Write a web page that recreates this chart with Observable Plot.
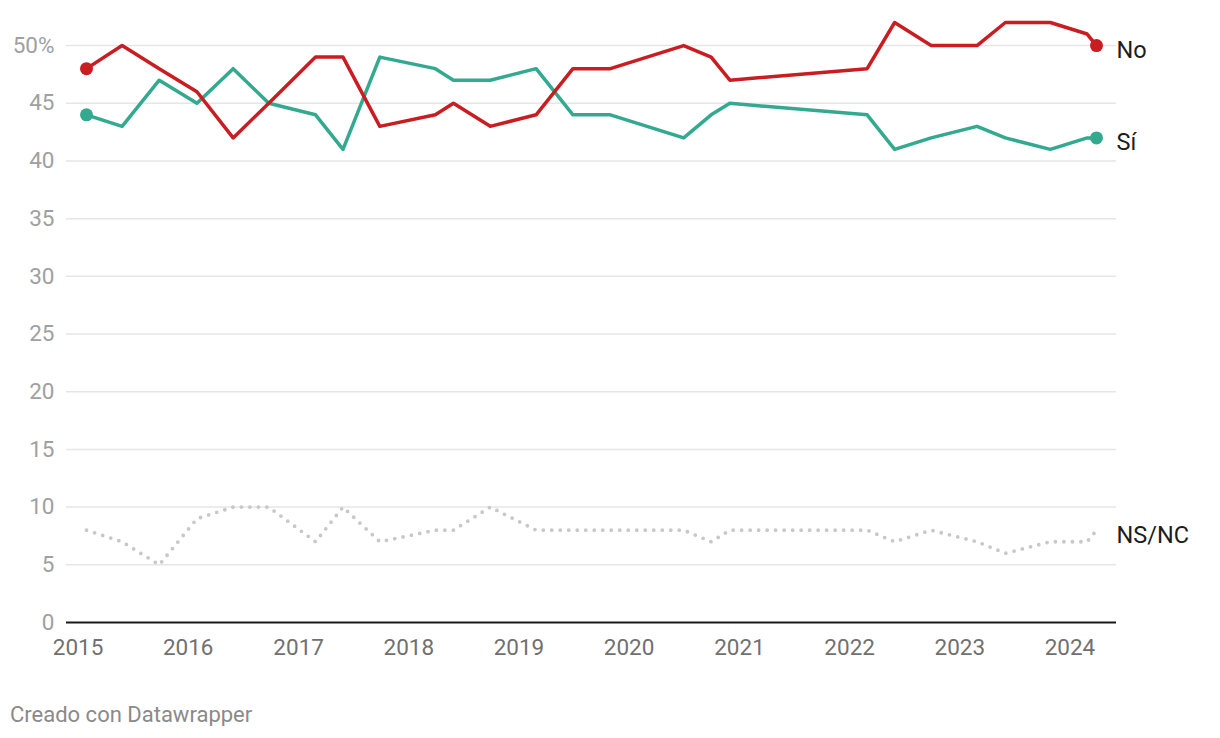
<!DOCTYPE html>
<html>
<head>
<meta charset="utf-8">
<script src="https://cdn.jsdelivr.net/npm/d3@7"></script>
<script src="https://cdn.jsdelivr.net/npm/@observablehq/plot@0.6"></script>
<style>
  body { margin: 0; background: #fff; font-family: Roboto, sans-serif; }
  #chart svg { display: block; }
  .caption { margin-top: 24px; padding-left: 10px; font-size: 22px; line-height: 22px; color: #8a8a8a; font-family: Roboto, sans-serif; }
</style>
</head>
<body>
<div id="chart"></div>
<div class="caption">Creado con Datawrapper</div>
<script>
const dates = ["2015-01-29","2015-05-27","2015-09-27","2016-01-30","2016-05-29","2016-09-24","2017-02-26","2017-05-28","2017-09-27","2018-03-30","2018-05-29","2018-09-28","2019-02-27","2019-06-29","2019-10-31","2020-06-30","2020-09-29","2020-11-30","2022-02-28","2022-05-30","2022-09-28","2023-02-27","2023-06-01","2023-10-28","2024-02-27","2024-03-29"];
const no   = [48,50,48,46,42,45,49,49,43,44,45,43,44,48,48,50,49,47,48,52,50,50,52,52,51,50];
const si   = [44,43,47,45,48,45,44,41,49,48,47,47,48,44,44,42,44,45,44,41,42,43,42,41,42,42];
const nsnc = [8,7,5,9,10,10,7,10,7,8,8,10,8,8,8,8,7,8,8,7,8,7,6,7,7,8];
const seriesNames = ["No", "Sí", "NS/NC"];
const seriesColors = ["#c91d22", "#33a98f", "#c8c8c8"];
const yTicks = [0,5,10,15,20,25,30,35,40,45,50];
const yTickLabels = ["0","5","10","15","20","25","30","35","40","45","50%"];
const xTickYears = ["2015","2016","2017","2018","2019","2020","2021","2022","2023","2024"];

const parse = d3.utcParse("%Y-%m-%d");
const values = [no, si, nsnc];
const rows = seriesNames.map((name, s) => dates.map((d, i) => ({date: parse(d), serie: name, value: values[s][i]})));
const yLabel = new Map(yTicks.map((t, i) => [t, yTickLabels[i]]));
const xTicks = xTickYears.map(y => parse(y + "-01-01"));

const endDots = [rows[0][0], rows[0][rows[0].length - 1], rows[1][0], rows[1][rows[1].length - 1]];
const lastPoints = rows.map(r => r[r.length - 1]);
const colorOf = new Map(seriesNames.map((n, i) => [n, seriesColors[i]]));

const chart = Plot.plot({
  width: 1220,
  height: 680,
  marginLeft: 66,
  marginRight: 104,
  marginTop: 22,
  marginBottom: 58,
  style: {fontFamily: "Roboto, sans-serif", fontSize: "22px", background: "#fff", overflow: "visible"},
  x: {type: "utc", inset: 20},
  y: {domain: [0, 52]},
  marks: [
    Plot.ruleY(yTicks.filter(d => d > 0), {stroke: "#e6e6e6", strokeWidth: 1.5}),
    Plot.axisY({ticks: yTicks, tickSize: 0, tickPadding: 12, tickFormat: d => yLabel.get(d), fill: "#a0a0a0", fontSize: 22.5, label: null}),
    Plot.axisX({ticks: xTicks, tickSize: 0, tickPadding: 17, tickFormat: d3.utcFormat("%Y"), fill: "#707070", fontSize: 22.5, label: null}),
    Plot.ruleY([0], {stroke: "#1a1a1a", strokeWidth: 2}),
    Plot.line(rows[2], {x: "date", y: "value", stroke: seriesColors[2], strokeWidth: 3.8, strokeDasharray: "0 8.5", strokeLinecap: "round"}),
    Plot.line(rows[1], {x: "date", y: "value", stroke: seriesColors[1], strokeWidth: 3.5, strokeLinejoin: "round"}),
    Plot.line(rows[0], {x: "date", y: "value", stroke: seriesColors[0], strokeWidth: 3.5, strokeLinejoin: "round"}),
    Plot.dot(endDots, {x: "date", y: "value", r: 6.5, fill: d => colorOf.get(d.serie), stroke: "none"}),
    Plot.text(lastPoints, {x: "date", y: "value", text: "serie", dx: 20, dy: 5, textAnchor: "start", fill: "#1d1d1d", fontSize: 23.5})
  ]
});
document.getElementById("chart").appendChild(chart);
</script>
</body>
</html>
